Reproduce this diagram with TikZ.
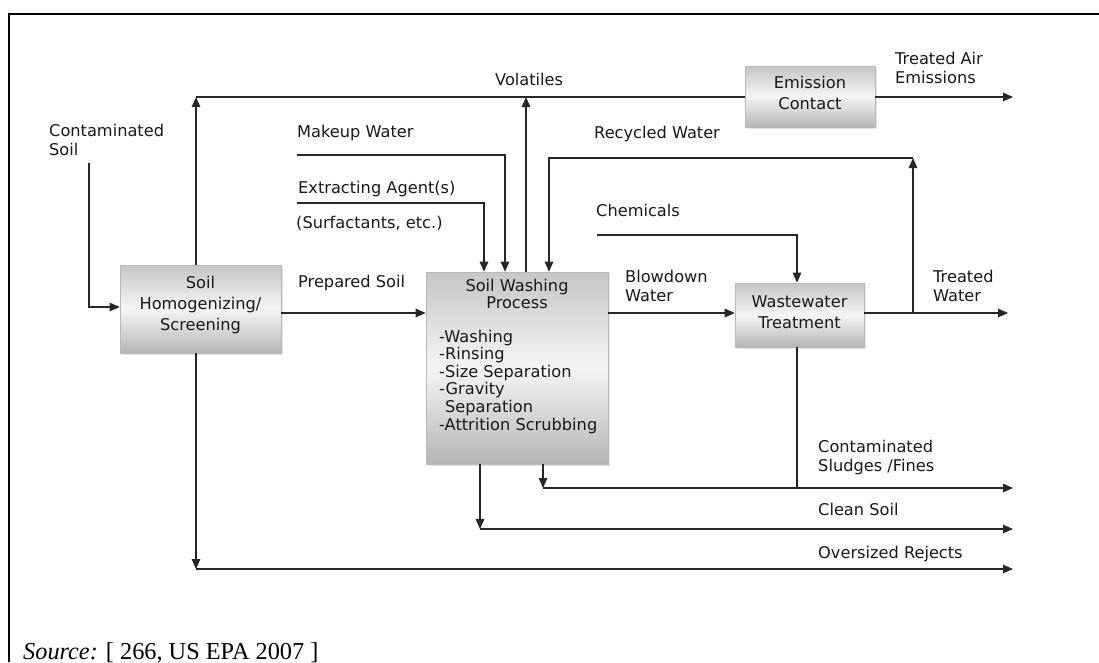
\documentclass[tikz,border=0pt]{standalone}
\usepackage{fontspec}
\setmainfont{Liberation Serif}
\newfontfamily\diagfont{DejaVu Sans}
\usetikzlibrary{arrows.meta,shadows}
\begin{document}
\begin{tikzpicture}[x=1pt,y=-1pt,
  lbl/.style={anchor=base west,inner sep=0pt,align=left,font=\diagfont\fontsize{16.2}{19}\selectfont,text=black!90},
  boxtxt/.style={anchor=base,inner sep=0pt,align=center,font=\diagfont\fontsize{16.2}{21}\selectfont,text=black!90},
  box/.style={draw=gray!55,line width=0.6pt,top color=gray!45,bottom color=gray!58,middle color=gray!8,
    drop shadow={shadow xshift=2pt,shadow yshift=-2pt,fill=gray!35,opacity=0.6},inner sep=0pt},
  flow/.style={line width=1.2pt,draw=black!85},
  arr/.style={flow,-{Triangle[length=10pt,width=8.5pt]}}
]
\useasboundingbox (0,0) rectangle (1099,662);
\fill[white] (0,0) rectangle (1099,662);
% frame
\coordinate (fbl) at (9,662);
\coordinate (ftl) at (9,14);
\coordinate (ftr) at (1099,14);
\draw[line width=2pt] (fbl) -- (ftl) -- (ftr);

% boxes
\node[box,minimum width=161,minimum height=88] (homog) at (200.5,309) {};
\node[box,minimum width=182,minimum height=192] (wash) at (517,368) {};
\node[box,minimum width=130,minimum height=61] (emis) at (810,96.5) {};
\node[box,minimum width=129,minimum height=64] (wwt) at (799.5,315) {};

% box texts (base anchor = baseline of last line)
\node[boxtxt] (homogtxt) at (200.5,330) {Soil\\Homogenizing/\\Screening};
\node[boxtxt,font=\diagfont\fontsize{16.2}{16.5}\selectfont] (washtitle) at (517,308) {Soil Washing\\Process};
\node[lbl,font=\diagfont\fontsize{16.2}{17.6}\selectfont] (washlist) at (439,430) {-Washing\\-Rinsing\\-Size Separation\\-Gravity\\\hphantom{-}Separation\\-Attrition Scrubbing};
\node[boxtxt] (emistxt) at (810,109) {Emission\\Contact};
\node[boxtxt] (wwttxt) at (799.5,328) {Wastewater\\Treatment};

% labels
\node[lbl] (lcs) at (49,155) {Contaminated\\Soil};
\node[lbl] (lmw) at (297,137) {Makeup Water};
\node[lbl] (lea) at (298,193) {Extracting Agent(s)};
\node[lbl] (lsu) at (296,228) {(Surfactants, etc.)};
\node[lbl] (lps) at (298,287) {Prepared Soil};
\node[lbl] (lvo) at (495,85) {Volatiles};
\node[lbl] (ltae) at (895,83) {Treated Air\\Emissions};
\node[lbl] (lrw) at (594,138) {Recycled Water};
\node[lbl] (lch) at (596,216) {Chemicals};
\node[lbl] (lbw) at (625,301) {Blowdown\\Water};
\node[lbl] (ltw) at (933,301) {Treated\\Water};
\node[lbl] (lsl) at (818,471) {Contaminated\\Sludges /Fines};
\node[lbl] (lcl) at (818,515) {Clean Soil};
\node[lbl] (lor) at (818,558) {Oversized Rejects};

% coordinates
\coordinate (cs0) at (89,163);
\coordinate (cs1) at (89,307);
\coordinate (v1) at (196,97);
\coordinate (v2) at (526,97);
\coordinate (tae) at (1013,97);
\coordinate (mw0) at (297,155);
\coordinate (mw1) at (505,155);
\coordinate (ea0) at (297,203);
\coordinate (ea1) at (484,203);
\coordinate (rw0) at (913,158);
\coordinate (rw1) at (549,158);
\coordinate (ch0) at (597,235);
\coordinate (ch1) at (797,235);
\coordinate (twj) at (913,313);
\coordinate (tw) at (1008,313);
\coordinate (sl0) at (543,488);
\coordinate (slj) at (797,488);
\coordinate (sl1) at (1013,488);
\coordinate (cl0) at (480,529);
\coordinate (cl1) at (1013,529);
\coordinate (or0) at (196,569);
\coordinate (or1) at (1013,569);

% connectors
\draw[arr] (cs0) -- (cs1) -- (cs1 -| homog.west);
\draw[arr] (homog.north -| v1) -- (v1);
\draw[flow] (v1) -- (v1 -| emis.west);
\draw[arr] (wash.north -| v2) -- (v2);
\draw[arr] (emis.east |- tae) -- (tae);
\draw[arr] (mw0) -- (mw1) -- (mw1 |- wash.north);
\draw[arr] (ea0) -- (ea1) -- (ea1 |- wash.north);
\draw[arr] (twj) -- (rw0);
\draw[arr] (rw0) -- (rw1) -- (rw1 |- wash.north);
\draw[arr] (ch0) -- (ch1) -- (ch1 |- wwt.north);
\draw[arr] (homog.east |- twj) -- (wash.west |- twj);
\draw[arr] (wash.east |- twj) -- (wwt.west |- twj);
\draw[arr] (wwt.east |- twj) -- (tw);
\draw[arr] (wash.south -| sl0) -- (sl0);
\draw[arr] (sl0) -- (sl1);
\draw[flow] (wwt.south -| slj) -- (slj);
\draw[arr] (wash.south -| cl0) -- (cl0);
\draw[arr] (cl0) -- (cl1);
\draw[arr] (homog.south -| or0) -- (or0);
\draw[arr] (or0) -- (or1);

% source
\node[anchor=base west,inner sep=0pt,font=\fontsize{24.3}{29}\selectfont] (src) at (23,659) {\textit{Source:} [ 266, US EPA 2007 ]};
\end{tikzpicture}
\end{document}
